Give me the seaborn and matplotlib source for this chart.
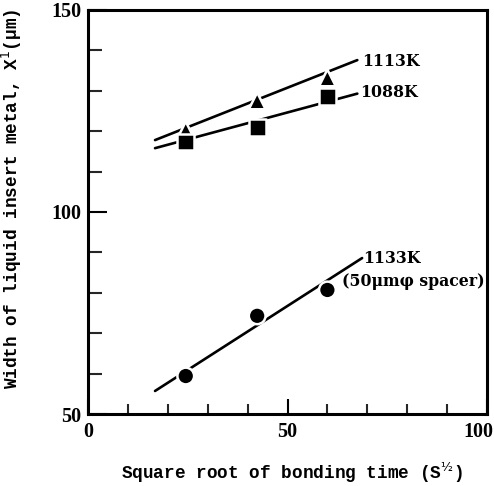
import matplotlib
matplotlib.use("Agg")
import matplotlib.pyplot as plt
import seaborn as sns
import pandas as pd
from matplotlib.ticker import MultipleLocator
from matplotlib.transforms import ScaledTranslation

# --- data ---
sqrt_time = [24.5, 42.4, 60.0]
width_1113 = [120.3, 127.5, 133.2]
width_1088 = [117.3, 121.0, 128.5]
width_1133 = [59.4, 74.3, 80.7]

fit_x = [16.8, 67.5]
fit_1113 = [117.8, 137.6]
fit_1088 = [115.8, 129.3]
fit_x_1133 = [16.8, 68.7]
fit_1133 = [55.7, 88.6]

labels = ["1113K", "1088K", "1133K"]

sns.set_theme(style="ticks")
plt.rcParams["font.family"] = ["DejaVu Serif", "Liberation Serif"]

fig = plt.figure(figsize=(4.94, 4.86), dpi=100)
ax = fig.add_axes([88 / 494, 72 / 486, 399 / 494, 404 / 486])

pts = pd.DataFrame({
    "x": sqrt_time * 3,
    "y": width_1113 + width_1088 + width_1133,
    "series": [labels[0]] * 3 + [labels[1]] * 3 + [labels[2]] * 3,
})
fits = pd.DataFrame({
    "x": fit_x + fit_x + fit_x_1133,
    "y": fit_1113 + fit_1088 + fit_1133,
    "series": [labels[0]] * 2 + [labels[1]] * 2 + [labels[2]] * 2,
})

sns.lineplot(data=fits, x="x", y="y", units="series", estimator=None,
             color="black", linewidth=1.9, ax=ax, zorder=2)
sns.scatterplot(data=pts, x="x", y="y", style="series",
                markers={labels[0]: "^", labels[1]: "s", labels[2]: "o"},
                s=145, color="black", edgecolor="white", linewidth=1.8,
                legend=False, ax=ax, zorder=3)

ax.set_xlim(0, 100)
ax.set_ylim(50, 150)
ax.xaxis.set_major_locator(MultipleLocator(50))
ax.xaxis.set_minor_locator(MultipleLocator(10))
ax.yaxis.set_major_locator(MultipleLocator(50))
ax.yaxis.set_minor_locator(MultipleLocator(10))
ax.tick_params(axis="x", which="major", direction="in", length=11, width=1.5,
               pad=6, labelsize=14.4, colors="black")
ax.tick_params(axis="x", which="minor", direction="in", length=7, width=1.5)
ax.tick_params(axis="y", which="major", direction="in", length=14, width=1.5,
               pad=5, labelsize=14.4, colors="black")
ax.tick_params(axis="y", which="minor", direction="in", length=10, width=1.5)
for sp in ax.spines.values():
    sp.set_visible(True)
    sp.set_linewidth(2.2)
    sp.set_color("black")

tk = dict(fontsize=11.3, fontweight="bold", color="black", va="center", ha="left")
ax.text(68.7, 137.2, labels[0], **tk)
ax.text(68.2, 129.5, labels[1], **tk)
ax.text(68.9, 88.6, labels[2], **tk)
ax.text(63.6, 82.7, "(50μmφ spacer)", **tk)

mono = dict(family=["Liberation Mono", "DejaVu Sans Mono"], fontweight="bold",
            fontsize=12.8, color="black")
ax.set_xlabel("Square root of bonding time (S$^{½}$)", va="center", **mono)
ax.set_ylabel("Width of liquid insert metal, X$^{1}$(μm)", va="center",
              ha="center", **mono)
ax.xaxis.set_label_coords((292 - 88) / 399, -(473 - 414) / 404)
ax.yaxis.set_label_coords(-(88 - 12) / 399, (414 - 199) / 404)

fig.canvas.draw()
for t in ax.xaxis.get_major_ticks() + ax.yaxis.get_major_ticks():
    t.label1.set_fontweight("bold")
    t.label1.set_fontfamily(["Liberation Serif", "DejaVu Serif"])
for t in ax.xaxis.get_major_ticks():
    if abs(t.get_loc() - 100) < 1e-6:
        t.label1.set_transform(t.label1.get_transform()
                               + ScaledTranslation(-0.09, 0, fig.dpi_scale_trans))

fig.savefig("out.png", dpi=100)
